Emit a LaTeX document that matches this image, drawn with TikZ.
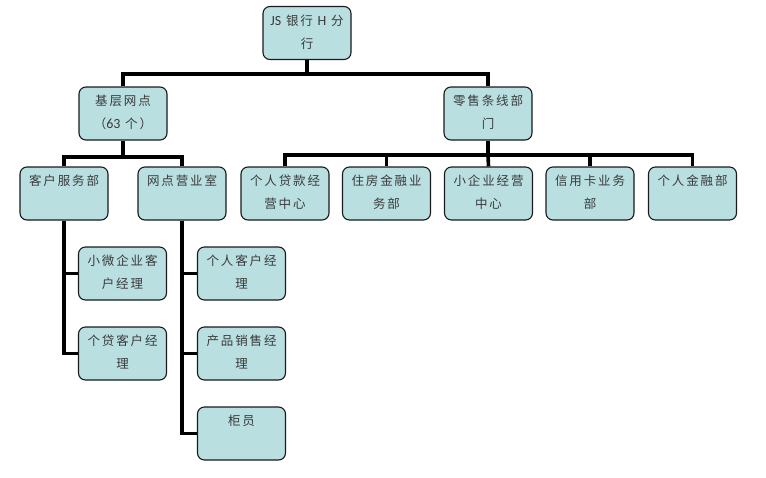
\documentclass[tikz,border=0pt]{standalone}
\usepackage{fontspec}
\setmainfont{Noto Sans CJK SC}[LetterSpace=15]
\newfontfamily\lat{Carlito}[Scale=1.12]
\definecolor{boxfill}{HTML}{B9DFE1}
\definecolor{boxline}{HTML}{1A1A1A}
\definecolor{txt}{HTML}{3A3A3A}
\newcommand{\btext}[1]{\parbox[c][53pt][t]{88pt}{\centering\fontsize{12.5}{23}\selectfont\rule{0pt}{18.5pt}#1}}
\tikzset{
  orgbox/.style={draw=boxline, line width=1.1pt, fill=boxfill, rounded corners=7pt,
    inner sep=0pt, minimum width=88pt, minimum height=53pt, text=txt},
  conn/.style={draw=black, line width=3.6pt, line join=miter}
}
\begin{document}
\begin{tikzpicture}[x=1pt,y=-1pt]
\useasboundingbox (0,0) rectangle (766,477);
% coordinates for bus lines
\coordinate (y1) at (0,74);
\coordinate (y2) at (0,157);
\coordinate (y3) at (0,155);
% nodes
\node[orgbox] (root) at (307,33) {\btext{{\lat JS} 银行 {\lat H} 分\\行}};
\node[orgbox] (base) at (123,113.5) {\btext{基层网点\\（{\lat 63} 个）}};
\node[orgbox] (retail) at (488,113.5) {\btext{零售条线部\\门}};
\node[orgbox] (cs) at (64,193.5) {\btext{客户服务部}};
\node[orgbox] (wd) at (182,193.5) {\btext{网点营业室}};
\node[orgbox] (r1) at (285,193.5) {\btext{个人贷款经\\营中心}};
\node[orgbox] (r2) at (386.5,193.5) {\btext{住房金融业\\务部}};
\node[orgbox] (r3) at (488.5,193.5) {\btext{小企业经营\\中心}};
\node[orgbox] (r4) at (590,193.5) {\btext{信用卡业务\\部}};
\node[orgbox] (r5) at (692.5,193.5) {\btext{个人金融部}};
\node[orgbox] (cs1) at (122.5,273.5) {\btext{小微企业客\\户经理}};
\node[orgbox] (cs2) at (122.5,353.5) {\btext{个贷客户经\\理}};
\node[orgbox] (wd1) at (241.5,273.5) {\btext{个人客户经\\理}};
\node[orgbox] (wd2) at (241.5,353.5) {\btext{产品销售经\\理}};
\node[orgbox] (wd3) at (241.5,433.5) {\btext{柜员}};
% connectors
\path[conn] (root.south) -- (root.south |- y1) -| (base.north);
\path[conn] (root.south |- y1) -| (retail.north);
\path[conn] (base.south) -- (base.south |- y2) -| (cs.north);
\path[conn] (base.south |- y2) -| (wd.north);
\path[conn] (retail.south) -- (retail.south |- y3) -| (r1.north);
\path[conn] (retail.south |- y3) -| (r2.north);
\path[conn] (retail.south |- y3) -- (r3.north);
\path[conn] (retail.south |- y3) -| (r4.north);
\path[conn] (retail.south |- y3) -| (r5.north);
\path[conn] (cs.south) |- (cs1.west);
\path[conn] (cs.south) |- (cs2.west);
\path[conn] (wd.south) |- (wd1.west);
\path[conn] (wd.south) |- (wd2.west);
\path[conn] (wd.south) |- (wd3.west);
\end{tikzpicture}
\end{document}
